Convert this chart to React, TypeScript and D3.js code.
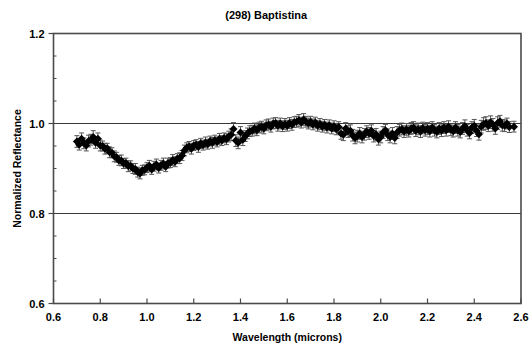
import React from "react";
import * as d3 from "d3";

const title = "(298) Baptistina";
const xLabel = "Wavelength (microns)";
const yLabel = "Normalized Reflectance";
const xTicks = [0.6, 0.8, 1.0, 1.2, 1.4, 1.6, 1.8, 2.0, 2.2, 2.4, 2.6];
const yTicks = [0.6, 0.8, 1.0, 1.2];
const yMinorTicks = [0.65, 0.7, 0.75, 0.85, 0.9, 0.95, 1.05, 1.1, 1.15];
const gridValues = [0.8, 1.0];

const wavelength = [
  0.70, 0.71, 0.72, 0.73, 0.74, 0.75, 0.76, 0.77, 0.78, 0.79,
  0.80, 0.81, 0.82, 0.83, 0.84, 0.85, 0.86, 0.87, 0.88, 0.89,
  0.90, 0.91, 0.92, 0.93, 0.94, 0.95, 0.96, 0.97, 0.98, 0.99,
  1.00, 1.01, 1.02, 1.03, 1.04, 1.05, 1.06, 1.07, 1.08, 1.09,
  1.10, 1.11, 1.12, 1.13, 1.14, 1.15, 1.16, 1.17, 1.18, 1.19,
  1.20, 1.21, 1.22, 1.23, 1.24, 1.25, 1.26, 1.27, 1.28, 1.29,
  1.30, 1.31, 1.32, 1.33, 1.34, 1.35, 1.36, 1.37, 1.38, 1.39,
  1.40, 1.41, 1.42, 1.43, 1.44, 1.45, 1.46, 1.47, 1.48, 1.49,
  1.50, 1.51, 1.52, 1.53, 1.54, 1.55, 1.56, 1.57, 1.58, 1.59,
  1.60, 1.61, 1.62, 1.63, 1.64, 1.65, 1.66, 1.67, 1.68, 1.69,
  1.70, 1.71, 1.72, 1.73, 1.74, 1.75, 1.76, 1.77, 1.78, 1.79,
  1.80, 1.81, 1.82, 1.83, 1.84, 1.85, 1.86, 1.87, 1.88, 1.89,
  1.90, 1.91, 1.92, 1.93, 1.94, 1.95, 1.96, 1.97, 1.98, 1.99,
  2.00, 2.01, 2.02, 2.03, 2.04, 2.05, 2.06, 2.07, 2.08, 2.09,
  2.10, 2.11, 2.12, 2.13, 2.14, 2.15, 2.16, 2.17, 2.18, 2.19,
  2.20, 2.21, 2.22, 2.23, 2.24, 2.25, 2.26, 2.27, 2.28, 2.29,
  2.30, 2.31, 2.32, 2.33, 2.34, 2.35, 2.36, 2.37, 2.38, 2.39,
  2.40, 2.41, 2.42, 2.43, 2.44, 2.45, 2.46, 2.47, 2.48, 2.49,
  2.50, 2.51, 2.52, 2.53, 2.54, 2.55, 2.57,
];

const reflectance = [
  0.960, 0.953, 0.966, 0.956, 0.951, 0.961, 0.964, 0.970, 0.957, 0.966,
  0.951, 0.950, 0.944, 0.945, 0.936, 0.935, 0.927, 0.925, 0.918, 0.918,
  0.911, 0.912, 0.905, 0.906, 0.900, 0.899, 0.892, 0.889, 0.896, 0.897,
  0.902, 0.906, 0.898, 0.905, 0.909, 0.901, 0.907, 0.911, 0.904, 0.912,
  0.913, 0.919, 0.915, 0.922, 0.923, 0.929, 0.940, 0.946, 0.949, 0.944,
  0.951, 0.953, 0.948, 0.956, 0.952, 0.958, 0.954, 0.961, 0.957, 0.963,
  0.959, 0.966, 0.962, 0.968, 0.965, 0.971, 0.975, 0.988, 0.962, 0.957,
  0.980, 0.964, 0.972, 0.978, 0.983, 0.984, 0.989, 0.985, 0.991, 0.993,
  0.989, 0.996, 0.998, 0.993, 1.000, 1.001, 0.995, 1.000, 0.994, 0.999,
  0.995, 1.001, 0.997, 1.003, 1.004, 1.007, 1.002, 1.009, 1.004, 1.000,
  1.004, 0.998, 1.002, 0.995, 0.999, 0.993, 0.997, 0.991, 0.996, 0.989,
  0.994, 0.987, 0.992, 0.978, 0.975, 0.989, 0.982, 0.984, 0.974, 0.968,
  0.972, 0.978, 0.970, 0.976, 0.982, 0.978, 0.984, 0.972, 0.976, 0.965,
  0.970, 0.980, 0.985, 0.975, 0.970, 0.978, 0.968, 0.980, 0.985, 0.988,
  0.982, 0.987, 0.983, 0.989, 0.991, 0.984, 0.988, 0.982, 0.990, 0.985,
  0.989, 0.983, 0.991, 0.985, 0.981, 0.989, 0.984, 0.991, 0.985, 0.993,
  0.986, 0.983, 0.991, 0.985, 0.981, 0.989, 0.994, 0.985, 0.979, 0.991,
  0.995, 0.984, 0.976, 0.993, 0.999, 1.001, 0.995, 1.003, 0.997, 0.989,
  1.001, 1.005, 0.996, 0.995, 1.000, 0.992, 0.993,
];

const uncertainty = [
  0.013, 0.012, 0.013, 0.012, 0.012, 0.013, 0.012, 0.014, 0.012, 0.013,
  0.012, 0.011, 0.012, 0.011, 0.012, 0.011, 0.012, 0.011, 0.011, 0.012,
  0.011, 0.011, 0.012, 0.011, 0.011, 0.012, 0.011, 0.012, 0.011, 0.011,
  0.011, 0.012, 0.011, 0.011, 0.012, 0.011, 0.011, 0.012, 0.011, 0.011,
  0.011, 0.012, 0.011, 0.011, 0.012, 0.011, 0.012, 0.011, 0.011, 0.012,
  0.011, 0.011, 0.012, 0.011, 0.011, 0.012, 0.011, 0.011, 0.012, 0.011,
  0.011, 0.012, 0.011, 0.011, 0.012, 0.012, 0.013, 0.014, 0.013, 0.013,
  0.013, 0.013, 0.012, 0.012, 0.012, 0.012, 0.012, 0.012, 0.012, 0.012,
  0.012, 0.012, 0.012, 0.012, 0.012, 0.012, 0.012, 0.012, 0.012, 0.012,
  0.012, 0.012, 0.012, 0.012, 0.012, 0.013, 0.012, 0.013, 0.012, 0.012,
  0.012, 0.012, 0.012, 0.012, 0.012, 0.012, 0.012, 0.012, 0.012, 0.012,
  0.012, 0.012, 0.012, 0.013, 0.013, 0.013, 0.013, 0.013, 0.013, 0.013,
  0.013, 0.013, 0.013, 0.013, 0.013, 0.013, 0.013, 0.013, 0.013, 0.013,
  0.013, 0.013, 0.013, 0.013, 0.013, 0.013, 0.013, 0.013, 0.013, 0.013,
  0.013, 0.013, 0.013, 0.013, 0.013, 0.013, 0.013, 0.013, 0.013, 0.013,
  0.013, 0.013, 0.013, 0.013, 0.013, 0.013, 0.013, 0.013, 0.013, 0.013,
  0.013, 0.013, 0.013, 0.013, 0.013, 0.013, 0.014, 0.013, 0.013, 0.013,
  0.014, 0.013, 0.013, 0.014, 0.014, 0.014, 0.013, 0.014, 0.014, 0.013,
  0.014, 0.013, 0.013, 0.013, 0.012, 0.012, 0.012,
];

const W = 530;
const H = 345;
const LEFT = 53.5;
const RIGHT = 521;
const TOP = 33.5;
const BOTTOM = 303.5;
const FONT = "'Liberation Sans', Arial, Helvetica, sans-serif";
const AXIS = "#4a4a4a";

export default function App() {
  const x = d3.scaleLinear().domain([0.6, 2.6]).range([LEFT, RIGHT]);
  const y = d3.scaleLinear().domain([0.6, 1.2]).range([BOTTOM, TOP]);
  const marker = d3.symbol().type(d3.symbolSquare).size(32)() as string;
  const points = wavelength.map((w, i) => ({ w, r: reflectance[i], e: uncertainty[i] }));
  const cap = 2.5;

  return (
    <svg
      width={W}
      height={H}
      viewBox={`0 0 ${W} ${H}`}
      style={{ position: "absolute", left: 0, top: 0, background: "#fff" }}
    >
      <rect x={0} y={0} width={W} height={H} fill="#fff" />
      <text
        x={(LEFT + RIGHT) / 2 - 21}
        y={19}
        textAnchor="middle"
        fontFamily={FONT}
        fontWeight="bold"
        fontSize={11}
        fill="#000"
      >
        {title}
      </text>

      {gridValues.map((g) => (
        <line key={g} x1={LEFT} x2={RIGHT} y1={y(g)} y2={y(g)} stroke="#3a3a3a" strokeWidth={1} />
      ))}

      {/* error bars */}
      <g stroke="#555" strokeWidth={1}>
        {points.map((p, i) => {
          const cx = x(p.w);
          const y1 = y(p.r + p.e);
          const y2 = y(p.r - p.e);
          return (
            <g key={i}>
              <line x1={cx} x2={cx} y1={y1} y2={y2} />
              <line x1={cx - cap} x2={cx + cap} y1={y1} y2={y1} />
              <line x1={cx - cap} x2={cx + cap} y1={y2} y2={y2} />
            </g>
          );
        })}
      </g>

      {/* markers */}
      <g fill="#000">
        {points.map((p, i) => (
          <path key={i} d={marker} transform={`translate(${x(p.w)},${y(p.r)}) rotate(45)`} />
        ))}
      </g>

      {/* frame */}
      <rect
        x={LEFT}
        y={TOP}
        width={RIGHT - LEFT}
        height={BOTTOM - TOP}
        fill="none"
        stroke={AXIS}
        strokeWidth={1.6}
      />

      {/* y ticks */}
      {yTicks.map((t) => (
        <g key={t}>
          <line x1={LEFT - 5} x2={LEFT} y1={y(t)} y2={y(t)} stroke={AXIS} strokeWidth={1.2} />
          <text
            x={LEFT - 9}
            y={y(t) + 4}
            textAnchor="end"
            fontFamily={FONT}
            fontWeight="bold"
            fontSize={11}
            fill="#000"
          >
            {t.toFixed(1)}
          </text>
        </g>
      ))}
      {yMinorTicks.map((t) => (
        <line key={t} x1={LEFT} x2={LEFT + 3} y1={y(t)} y2={y(t)} stroke={AXIS} strokeWidth={1} />
      ))}

      {/* x ticks */}
      {xTicks.map((t) => (
        <g key={t}>
          <line x1={x(t)} x2={x(t)} y1={BOTTOM} y2={BOTTOM - 5} stroke={AXIS} strokeWidth={1.2} />
          <text
            x={x(t)}
            y={BOTTOM + 17}
            textAnchor="middle"
            fontFamily={FONT}
            fontWeight="bold"
            fontSize={11}
            fill="#000"
          >
            {t.toFixed(1)}
          </text>
        </g>
      ))}

      <text
        x={(LEFT + RIGHT) / 2}
        y={341}
        textAnchor="middle"
        fontFamily={FONT}
        fontWeight="bold"
        fontSize={10.5}
        fill="#000"
      >
        {xLabel}
      </text>
      <text
        transform={`translate(21,${(TOP + BOTTOM) / 2}) rotate(-90)`}
        textAnchor="middle"
        fontFamily={FONT}
        fontWeight="bold"
        fontSize={10.5}
        fill="#000"
      >
        {yLabel}
      </text>
    </svg>
  );
}
